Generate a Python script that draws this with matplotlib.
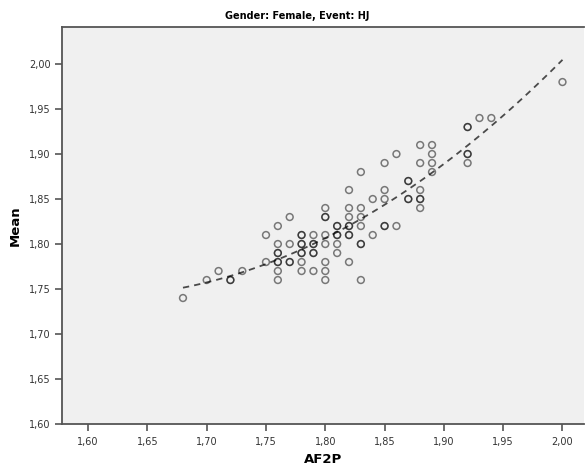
import numpy as np
import matplotlib
matplotlib.use('Agg')
import matplotlib.pyplot as plt
from matplotlib.ticker import FuncFormatter, MultipleLocator

# AF2P vs Mean, repeated pairs are points drawn twice in the original
af2p = [1.68, 1.70, 1.71, 1.72, 1.72, 1.73,
        1.75, 1.75,
        1.76, 1.76, 1.76, 1.76, 1.76, 1.76, 1.76, 1.76,
        1.77, 1.77, 1.77, 1.77,
        1.78, 1.78, 1.78, 1.78, 1.78, 1.78, 1.78, 1.78,
        1.79, 1.79, 1.79, 1.79, 1.79, 1.79,
        1.80, 1.80, 1.80, 1.80, 1.80, 1.80, 1.80, 1.80,
        1.81, 1.81, 1.81, 1.81, 1.81, 1.81,
        1.82, 1.82, 1.82, 1.82, 1.82, 1.82, 1.82, 1.82,
        1.83, 1.83, 1.83, 1.83, 1.83, 1.83, 1.83,
        1.84, 1.84,
        1.85, 1.85, 1.85, 1.85, 1.85,
        1.86, 1.86,
        1.87, 1.87, 1.87, 1.87,
        1.88, 1.88, 1.88, 1.88, 1.88, 1.88,
        1.89, 1.89, 1.89, 1.89,
        1.92, 1.92, 1.92, 1.92, 1.92,
        1.93, 1.94, 2.00]
mean = [1.74, 1.76, 1.77, 1.76, 1.76, 1.77,
        1.81, 1.78,
        1.82, 1.80, 1.79, 1.79, 1.78, 1.78, 1.77, 1.76,
        1.83, 1.80, 1.78, 1.78,
        1.81, 1.81, 1.80, 1.80, 1.79, 1.79, 1.78, 1.77,
        1.81, 1.80, 1.80, 1.79, 1.79, 1.77,
        1.84, 1.83, 1.83, 1.81, 1.80, 1.78, 1.77, 1.76,
        1.82, 1.82, 1.81, 1.81, 1.80, 1.79,
        1.86, 1.84, 1.83, 1.82, 1.82, 1.81, 1.81, 1.78,
        1.88, 1.84, 1.83, 1.82, 1.80, 1.80, 1.76,
        1.85, 1.81,
        1.89, 1.86, 1.85, 1.82, 1.82,
        1.90, 1.82,
        1.87, 1.87, 1.85, 1.85,
        1.91, 1.89, 1.86, 1.85, 1.85, 1.84,
        1.91, 1.90, 1.89, 1.88,
        1.93, 1.93, 1.90, 1.90, 1.89,
        1.94, 1.94, 1.98]

x = np.array(af2p)
y = np.array(mean)

# quadratic fit line like the SPSS one
coef = np.polyfit(x, y, 2)
xf = np.linspace(x.min(), x.max(), 100)
yf = np.polyval(coef, xf)

fig = plt.figure(figsize=(5.85, 4.68), dpi=100)
ax = fig.add_axes([0.106, 0.094, 0.892, 0.848])
ax.set_facecolor('#f0f0f0')

ax.plot(xf, yf, ls=(0, (3.5, 2.8)), color='#4a4a4a', lw=1.3)
ax.scatter(x, y, s=24, facecolors='none', edgecolors=(0, 0, 0, 0.5), linewidths=1.1, zorder=3)

ax.set_xlim(1.578, 2.018)
ax.set_ylim(1.60, 2.041)
fmt = FuncFormatter(lambda v, p: ('%.2f' % v).replace('.', ','))
ax.xaxis.set_major_formatter(fmt)
ax.yaxis.set_major_formatter(fmt)
ax.set_xticks([1.60 + 0.05 * i for i in range(9)])
ax.set_yticks([1.60 + 0.05 * i for i in range(9)])

for s in ['left', 'bottom', 'top']:
    ax.spines[s].set_color('#555555')
    ax.spines[s].set_linewidth(1.3)
ax.spines['right'].set_visible(False)
ax.tick_params(direction='out', length=5, width=1.2, color='#555555',
               labelsize=7, labelcolor='#333333', pad=3)
ax.tick_params(axis='x', pad=4)

ax.set_xlabel('AF2P', fontsize=9.5, fontweight='bold', labelpad=5)
ax.set_ylabel('Mean', fontsize=9.5, fontweight='bold', labelpad=5)
fig.text(0.508, 0.965, 'Gender: Female, Event: HJ', ha='center', va='center',
         fontsize=7, fontweight='bold')

plt.savefig('out.png', dpi=100)
